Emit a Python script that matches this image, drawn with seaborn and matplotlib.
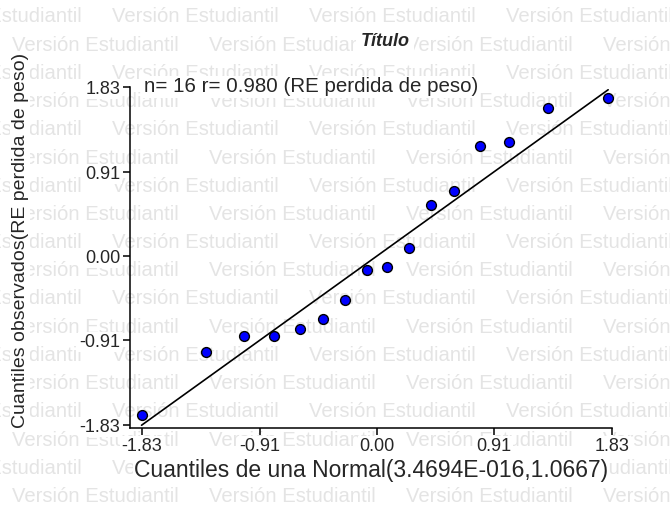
import numpy as np
import pandas as pd
import matplotlib
matplotlib.use("Agg")
import matplotlib.pyplot as plt
import seaborn as sns

# cuantiles teoricos (normal) y observados
cuantil_normal = [-1.83, -1.33, -1.03, -0.80, -0.60, -0.42, -0.25, -0.08,
                  0.08, 0.25, 0.42, 0.60, 0.80, 1.03, 1.33, 1.80]
cuantil_obs = [-1.72, -1.04, -0.86, -0.86, -0.79, -0.68, -0.48, -0.15,
               -0.12, 0.09, 0.55, 0.70, 1.19, 1.23, 1.60, 1.71]
recta_x = [-1.83, 1.80]
recta_y = [-1.83, 1.80]
ticks = [-1.83, -0.91, 0.00, 0.91, 1.83]
tick_labels = ["-1.83", "-0.91", "0.00", "0.91", "1.83"]

sns.set_style("ticks")
plt.rcParams['font.family'] = ['Liberation Sans', 'DejaVu Sans']

df = pd.DataFrame({"x": cuantil_normal, "y": cuantil_obs})
caja = dict(facecolor="white", edgecolor="none", pad=1.0)

fig = plt.figure(figsize=(6.7, 5.13), dpi=100, facecolor="white")

# marca de agua "Versión Estudiantil"
for k in range(18):
    yy = 1 - (17 + 28.2 * k) / 513
    x0 = -85 if k % 2 == 0 else 12
    for j in range(4):
        fig.text((x0 + 197 * j) / 670, yy, "Versión Estudiantil", color="#e4e4e4",
                 fontsize=14.6, va="center", ha="left", zorder=-1)

ax = fig.add_axes([130 / 670, 1 - 428 / 513, 482 / 670, 341 / 513])
ax.patch.set_alpha(0)

sns.lineplot(x=recta_x, y=recta_y, ax=ax, color="black", linewidth=1.2)
sns.scatterplot(data=df, x="x", y="y", ax=ax, color="#0000ff", edgecolor="black",
                linewidth=1.0, s=50, zorder=3, clip_on=False)

ax.set_xlim(-1.92, 1.83)
ax.set_ylim(-1.86, 1.83)
ax.set_xticks(ticks)
ax.set_xticklabels(tick_labels)
ax.set_yticks(ticks)
ax.set_yticklabels(tick_labels)
ax.tick_params(axis="both", labelsize=13, length=5, width=1.1, color="black",
               direction="out", pad=2)
for t in ax.get_xticklabels() + ax.get_yticklabels():
    t.set_bbox(caja)
for s in ["top", "right"]:
    ax.spines[s].set_visible(False)
for s in ["left", "bottom"]:
    ax.spines[s].set_color("black")
    ax.spines[s].set_linewidth(1.1)

ax.set_xlabel("Cuantiles de una Normal(3.4694E-016,1.0667)", fontsize=16.5, bbox=caja)
ax.set_ylabel("Cuantiles observados(RE perdida de peso)", fontsize=14, bbox=caja)
ax.xaxis.set_label_coords(0.5, -0.092)
ax.yaxis.set_label_coords(-0.21, 0.55)
ax.text(0.03, 1.0, "n= 16 r= 0.980 (RE perdida de peso)", transform=ax.transAxes,
        fontsize=14.8, va="center", ha="left", bbox=caja)
fig.text(385 / 670, 1 - 42 / 513, "Título", fontsize=13, fontweight="bold",
         fontstyle="italic", ha="center", va="center",
         bbox=dict(facecolor="white", edgecolor="none", pad=3))

fig.savefig("out.png", dpi=100, facecolor="white")
